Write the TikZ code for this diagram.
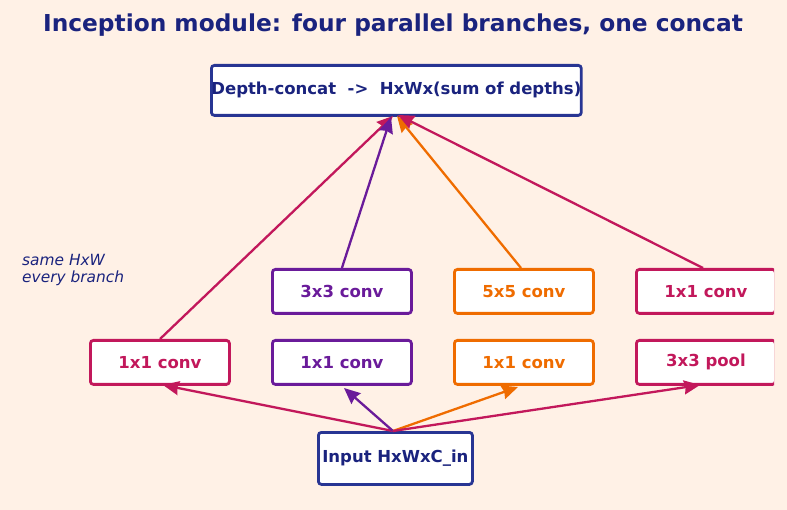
\documentclass[tikz,border=0pt]{standalone}
\usepackage{fontspec}
\setmainfont{DejaVu Sans}
\usetikzlibrary{arrows.meta}
\definecolor{bgc}{HTML}{FFF1E6}
\definecolor{navy}{HTML}{1A237E}
\definecolor{navyline}{HTML}{283593}
\definecolor{crim}{HTML}{C2185B}
\definecolor{purp}{HTML}{6A1B9A}
\definecolor{oran}{HTML}{EF6C00}
\tikzset{
  box/.style={draw=#1, fill=white, line width=2.8pt, rounded corners=3pt,
    text=#1, font=\bfseries\fontsize{16.5}{19}\selectfont, minimum width=139pt,
    minimum height=44pt, inner sep=0pt, anchor=north west},
  navybox/.style={box=navyline, text=navy},
  link/.style={draw=#1, line width=2.3pt, -{Stealth[length=16pt,width=14pt,inset=1.5pt]}},
}
\begin{document}
\begin{tikzpicture}[x=1pt,y=-1pt]
\fill[bgc] (0,0) rectangle (787,510);
\useasboundingbox (0,0) rectangle (787,510);

\node[text=navy, font=\bfseries\fontsize{23.3}{27}\selectfont] (title) at (393,25) {Inception module: four parallel branches, one concat};

\node[navybox, minimum width=367pt, minimum height=50pt] (cat) at (210,64) {Depth-concat\ \ ->\ \ HxWx(sum of depths)};

\node[align=left, text=navy, font=\itshape\fontsize{15.4}{17}\selectfont, anchor=north west, inner sep=0pt] (note) at (22,254) {same HxW\\every branch};

% branch boxes
\node[box=crim] (b1a) at (89,339) {1x1 conv};
\node[box=purp] (b2a) at (271,339) {1x1 conv};
\node[box=purp] (b2b) at (271,268) {3x3 conv};
\node[box=oran] (b3a) at (453,339) {1x1 conv};
\node[box=oran] (b3b) at (453,268) {5x5 conv};
\begin{scope}
\clip (0,0) rectangle (774,510);
\node[box=crim] (b4a) at (635,339) {3x3 pool};
\node[box=crim] (b4b) at (635,268) {1x1 conv};
\end{scope}

\node[navybox, minimum width=154pt, minimum height=52pt] (in) at (317,431) {Input HxWxC\_in};

% fan-out from the input
\coordinate (src) at (393,431);
\draw[link=crim] (src) -- (163,385);
\draw[link=purp] (src) -- (344,388);
\draw[link=oran] (src) -- (518,387);
\draw[link=crim] (src) -- (700,385);

% branch outputs into the concat
\draw[link=crim] (b1a.north -| 160,0) -- (393,116);
\draw[link=purp] (b2b.north) -- (391,117);
\draw[link=oran] (b3b.north -| 521,0) -- (397,116);
\draw[link=crim] (b4b.north -| 703,0) -- (398,115);
\end{tikzpicture}
\end{document}
